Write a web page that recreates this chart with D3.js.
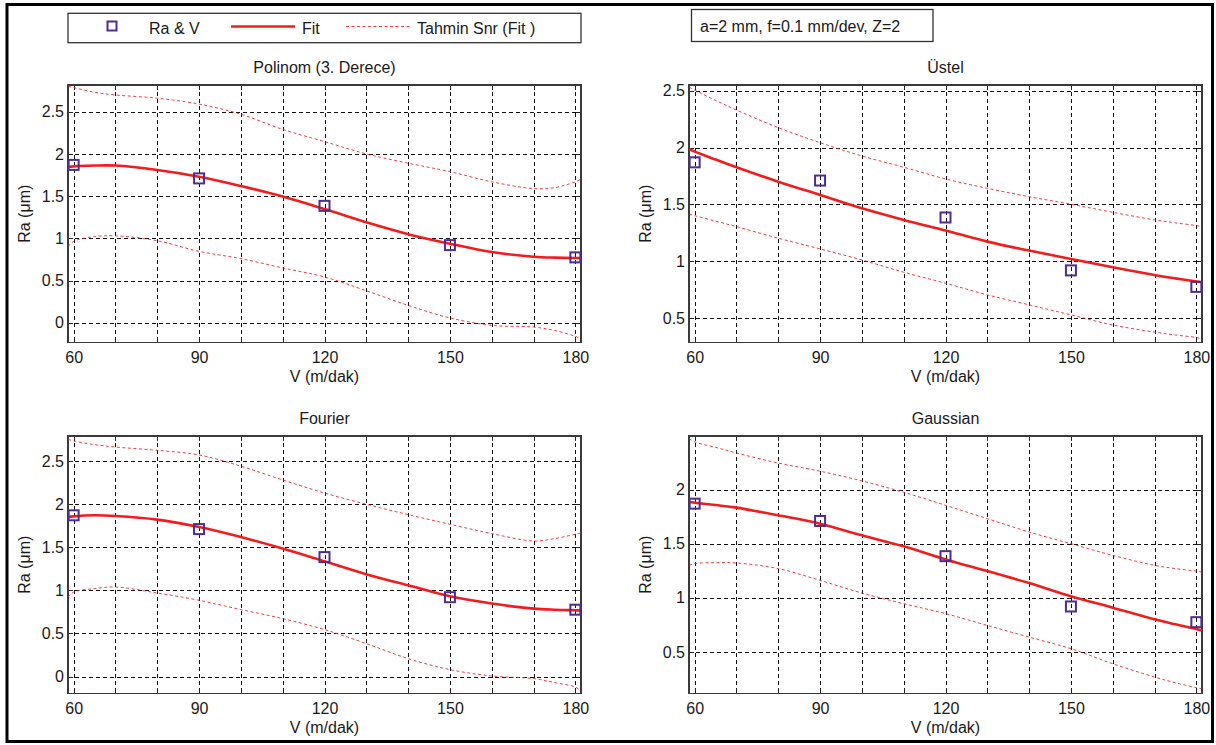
<!DOCTYPE html>
<html>
<head>
<meta charset="utf-8">
<script src="https://cdn.jsdelivr.net/npm/d3@7"></script>
<style>
  body { margin: 0; background: #fff; }
  svg text { font-family: Arial, "Liberation Sans", sans-serif; fill: #1a1a1a; }
</style>
</head>
<body>
<div id="chart"></div>
<script>
const width = 1216,
  height = 745;

// measured data points (V, Ra)
const V = [60, 90, 120, 150, 180];
const Ra = [1.87, 1.71, 1.385, 0.92, 0.775];

const vCurve = [58.7, 60, 65, 70, 80, 90, 100, 110, 120, 130, 140, 150, 160, 170, 175, 180, 181.3];

const polFit = [1.845, 1.852, 1.862, 1.862, 1.81, 1.73, 1.62, 1.495, 1.347, 1.19, 1.05, 0.937, 0.838, 0.783, 0.772, 0.768, 0.768];
const polUp = [2.80, 2.785, 2.73, 2.698, 2.66, 2.59, 2.47, 2.29, 2.146, 2.0, 1.89, 1.79, 1.67, 1.59, 1.60, 1.67, 1.70];
const polLo = [0.905, 0.965, 1.02, 1.03, 0.972, 0.846, 0.76, 0.65, 0.543, 0.38, 0.207, 0.058, -0.03, -0.05, -0.09, -0.16, -0.19];

const expFit = [1.985, 1.964, 1.895, 1.827, 1.70, 1.583, 1.466, 1.364, 1.27, 1.173, 1.094, 1.021, 0.948, 0.88, 0.85, 0.822, 0.816];
const expUp = [2.53, 2.506, 2.415, 2.33, 2.175, 2.043, 1.926, 1.827, 1.724, 1.642, 1.568, 1.502, 1.431, 1.364, 1.338, 1.314, 1.305];
const expLo = [1.416, 1.401, 1.353, 1.305, 1.203, 1.109, 1.012, 0.904, 0.807, 0.705, 0.617, 0.529, 0.44, 0.377, 0.352, 0.33, 0.318];

const fouFit = [1.85, 1.858, 1.87, 1.862, 1.82, 1.734, 1.618, 1.484, 1.336, 1.186, 1.058, 0.93, 0.846, 0.788, 0.775, 0.768, 0.766];
const fouUp = [2.752, 2.732, 2.69, 2.662, 2.624, 2.57, 2.44, 2.28, 2.129, 1.998, 1.878, 1.766, 1.658, 1.572, 1.60, 1.65, 1.665];
const fouLo = [0.922, 0.98, 1.02, 1.038, 0.969, 0.884, 0.776, 0.672, 0.544, 0.382, 0.208, 0.08, 0.006, -0.024, -0.07, -0.122, -0.168];

const gauFit = [1.885, 1.879, 1.857, 1.833, 1.762, 1.685, 1.577, 1.476, 1.355, 1.247, 1.136, 1.014, 0.909, 0.801, 0.755, 0.711, 0.699];
const gauUp = [2.471, 2.44, 2.39, 2.338, 2.245, 2.17, 2.08, 1.975, 1.855, 1.731, 1.608, 1.50, 1.392, 1.3, 1.27, 1.247, 1.238];
const gauLo = [1.30, 1.316, 1.325, 1.322, 1.27, 1.161, 1.044, 0.946, 0.854, 0.745, 0.637, 0.53, 0.391, 0.268, 0.215, 0.17, 0.16];

// axes
const xDomain = [58.65, 181.35];
const xGrid = [60, 70, 80, 90, 100, 110, 120, 130, 140, 150, 160, 170, 180];
const xLabels = [60, 90, 120, 150, 180];
const polTicks = [0, 0.5, 1, 1.5, 2, 2.5];
const expTicks = [0.5, 1, 1.5, 2, 2.5];
const fouTicks = [0, 0.5, 1, 1.5, 2, 2.5];
const gauTicks = [0.5, 1, 1.5, 2];

const panels = [
  { title: "Polinom (3. Derece)", x0: 68, y0: 85, yDom: [-0.233, 2.816], yTicks: polTicks, fit: polFit, up: polUp, lo: polLo },
  { title: "Üstel", x0: 689, y0: 85, yDom: [0.286, 2.55], yTicks: expTicks, fit: expFit, up: expUp, lo: expLo },
  { title: "Fourier", x0: 68, y0: 436, yDom: [-0.197, 2.79], yTicks: fouTicks, fit: fouFit, up: fouUp, lo: fouLo },
  { title: "Gaussian", x0: 689, y0: 436, yDom: [0.116, 2.495], yTicks: gauTicks, fit: gauFit, up: gauUp, lo: gauLo }
];
const pw = 513, ph = 257.5;

const red = "#f21c1c", purple = "#4e2d90";

const svg = d3.select("#chart")
  .append("svg")
  .attr("width", width)
  .attr("height", height);

// outer frame
svg.append("rect")
  .attr("x", 7).attr("y", 4.5)
  .attr("width", 1205.5).attr("height", 737)
  .attr("fill", "none")
  .attr("stroke", "#000")
  .attr("stroke-width", 3);

panels.forEach((p, i) => {
  const x = d3.scaleLinear().domain(xDomain).range([0, pw]);
  const y = d3.scaleLinear().domain(p.yDom).range([ph, 0]);

  const g = svg.append("g").attr("transform", `translate(${p.x0},${p.y0})`);

  g.append("clipPath").attr("id", "clip" + i)
    .append("rect").attr("width", pw).attr("height", ph);

  // grid
  g.append("g")
    .call(d3.axisBottom(x).tickValues(xGrid).tickSize(ph).tickFormat(""))
    .call(a => a.select(".domain").remove())
    .selectAll("line")
    .attr("class", "grid")
    .attr("stroke", "#111")
    .attr("shape-rendering", "crispEdges")
    .attr("stroke-dasharray", "4,3");
  g.append("g")
    .call(d3.axisLeft(y).tickValues(p.yTicks).tickSize(-pw).tickFormat(""))
    .call(a => a.select(".domain").remove())
    .selectAll("line")
    .attr("class", "grid")
    .attr("stroke", "#111")
    .attr("shape-rendering", "crispEdges")
    .attr("stroke-dasharray", "4,3");

  // inward ticks + labels
  g.append("g")
    .attr("transform", `translate(0,${ph})`)
    .call(d3.axisBottom(x).tickValues(xGrid).tickSize(-5).tickPadding(9)
      .tickFormat(d => xLabels.includes(d) ? d : ""));
  g.append("g").call(d3.axisTop(x).tickValues(xGrid).tickSize(-5).tickFormat(""));
  g.append("g")
    .call(d3.axisLeft(y).tickValues(p.yTicks).tickSize(-5).tickPadding(4).tickFormat(d3.format("")));
  g.append("g").attr("transform", `translate(${pw},0)`)
    .call(d3.axisRight(y).tickValues(p.yTicks).tickSize(-5).tickFormat(""));
  g.selectAll(".domain").remove();
  g.selectAll(".tick line:not(.grid)").attr("stroke", "#222").attr("shape-rendering", "crispEdges");
  g.selectAll(".tick text").attr("font-size", 16).attr("fill", "#1a1a1a");

  // box
  g.append("rect")
    .attr("width", pw).attr("height", ph)
    .attr("fill", "none")
    .attr("stroke", "#3a3a3a")
    .attr("shape-rendering", "crispEdges")
    .attr("stroke-width", 1.5);

  const line = d3.line()
    .x((d, j) => x(vCurve[j]))
    .y(d => y(d))
    .curve(d3.curveCatmullRom.alpha(0.5));

  const plot = g.append("g").attr("clip-path", `url(#clip${i})`);
  [p.up, p.lo].forEach(arr => {
    plot.append("path")
      .attr("d", line(arr))
      .attr("fill", "none")
      .attr("stroke", red)
      .attr("stroke-opacity", 0.85)
      .attr("stroke-width", 1)
      .attr("stroke-dasharray", "3,2.5");
  });
  plot.append("path")
    .attr("d", line(p.fit))
    .attr("fill", "none")
    .attr("stroke", red)
    .attr("stroke-width", 2.6);

  // data squares
  g.append("g")
    .selectAll("rect")
    .data(V)
    .join("rect")
    .attr("x", d => x(d) - 5)
    .attr("y", (d, j) => y(Ra[j]) - 5)
    .attr("width", 10)
    .attr("height", 10)
    .attr("fill", "none")
    .attr("stroke", purple)
    .attr("stroke-width", 2);

  // labels
  g.append("text")
    .attr("x", pw / 2).attr("y", -12.5)
    .attr("text-anchor", "middle")
    .attr("font-size", 16)
    .text(p.title);
  g.append("text")
    .attr("x", pw / 2).attr("y", ph + 39)
    .attr("text-anchor", "middle")
    .attr("font-size", 16)
    .text("V (m/dak)");
  g.append("text")
    .attr("transform", `translate(-38,${ph / 2}) rotate(-90)`)
    .attr("text-anchor", "middle")
    .attr("font-size", 16)
    .text("Ra (μm)");
});

// legend
const leg = svg.append("g");
leg.append("rect")
  .attr("x", 68).attr("y", 13.3)
  .attr("width", 513).attr("height", 29.4)
  .attr("fill", "#fff")
  .attr("stroke", "#333")
  .attr("stroke-width", 1.3);
leg.append("rect")
  .attr("x", 107.5).attr("y", 21.5)
  .attr("width", 9).attr("height", 9)
  .attr("fill", "none")
  .attr("stroke", purple)
  .attr("stroke-width", 2);
leg.append("text").attr("x", 149).attr("y", 33.5).attr("font-size", 16).text("Ra & V");
leg.append("line")
  .attr("x1", 231).attr("x2", 295).attr("y1", 26.5).attr("y2", 26.5)
  .attr("stroke", red).attr("stroke-width", 2.6);
leg.append("text").attr("x", 302).attr("y", 33.5).attr("font-size", 16).text("Fit");
leg.append("line")
  .attr("x1", 346).attr("x2", 411).attr("y1", 26.5).attr("y2", 26.5)
  .attr("stroke", red).attr("stroke-opacity", 0.85)
  .attr("stroke-width", 1).attr("stroke-dasharray", "3,2.5");
leg.append("text").attr("x", 417).attr("y", 33.5).attr("font-size", 16).text("Tahmin Snr (Fit )");

// parameters box
svg.append("rect")
  .attr("x", 691.5).attr("y", 9.5)
  .attr("width", 241.5).attr("height", 32)
  .attr("fill", "#fff")
  .attr("stroke", "#333")
  .attr("stroke-width", 1.3);
svg.append("text")
  .attr("x", 700).attr("y", 31.5)
  .attr("font-size", 16)
  .text("a=2 mm, f=0.1 mm/dev, Z=2");
</script>
</body>
</html>
